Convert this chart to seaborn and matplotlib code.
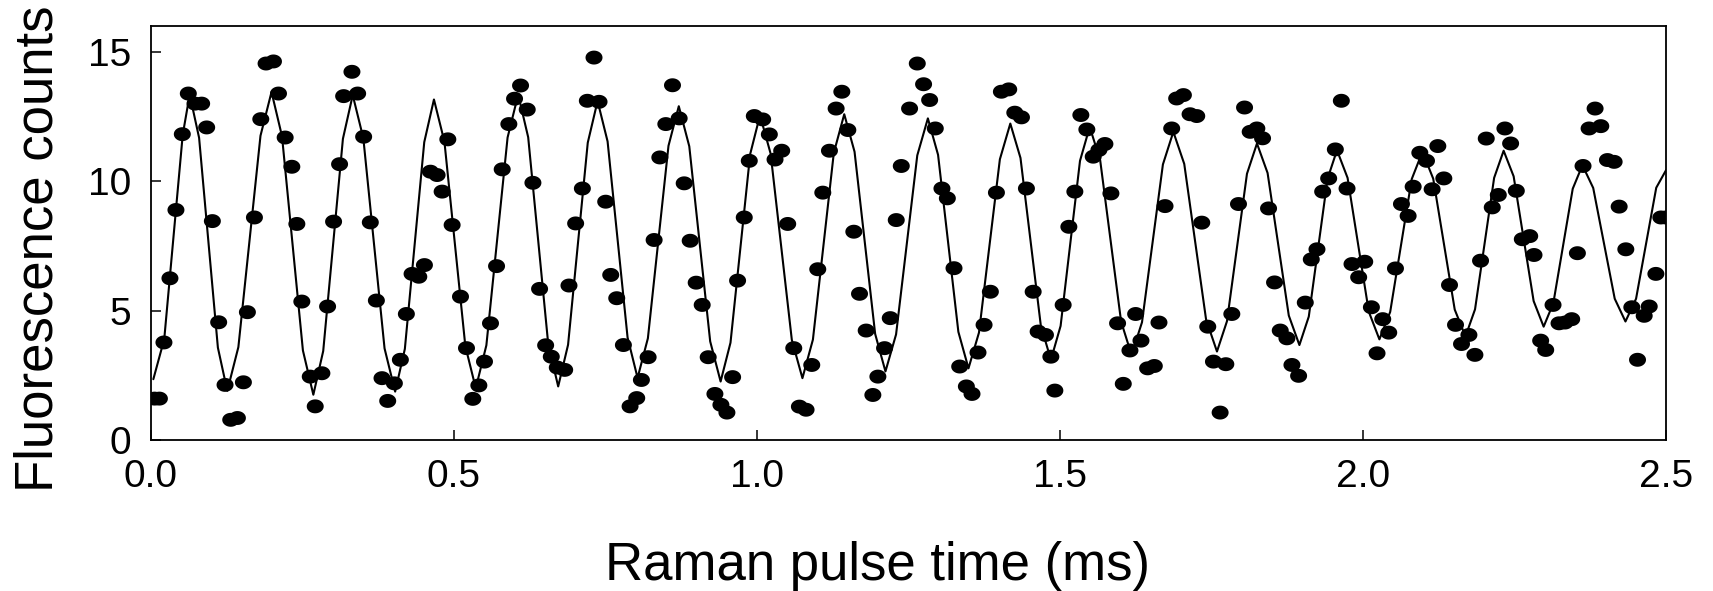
import numpy as np
import matplotlib
matplotlib.use("Agg")
import matplotlib.pyplot as plt
from matplotlib.path import Path
from matplotlib.markers import MarkerStyle
import seaborn as sns

# measured points: Raman pulse time (ms) and fluorescence counts
time_ms = [0.006, 0.014, 0.0215, 0.0314, 0.0413, 0.0518, 0.0617, 0.0727, 0.0837, 0.092,
           0.1014, 0.1118, 0.1223, 0.1317, 0.1427, 0.1526, 0.1592, 0.1708, 0.1813, 0.190,
           0.2022, 0.2105, 0.2215, 0.2325, 0.2408, 0.249, 0.2629, 0.2711, 0.2821, 0.2915,
           0.3014, 0.3113, 0.318, 0.3317, 0.3411, 0.351, 0.362, 0.372, 0.3813, 0.3907,
           0.4017, 0.4116, 0.4215, 0.4309, 0.442, 0.4513, 0.4612, 0.4722, 0.4805, 0.4899,
           0.497, 0.5108, 0.5207, 0.5311, 0.5411, 0.5504, 0.5603, 0.5703, 0.5796, 0.5906,
           0.600, 0.6099, 0.6209, 0.6303, 0.6413, 0.6513, 0.6606, 0.6705, 0.6827, 0.6898,
           0.7008, 0.7119, 0.7201, 0.7311, 0.7394, 0.7504, 0.7587, 0.7686, 0.7796, 0.7906,
           0.8016, 0.8093, 0.8204, 0.8303, 0.8397, 0.8496, 0.8606, 0.8716, 0.8799, 0.8898,
           0.8997, 0.9096, 0.9195, 0.9306, 0.9405, 0.9504, 0.9598, 0.968, 0.979, 0.9873,
           0.9956, 1.0094, 1.0204, 1.0298, 1.0408, 1.0507, 1.0607, 1.070, 1.081, 1.0904,
           1.1003, 1.1086, 1.1196, 1.1306, 1.140, 1.1499, 1.1598, 1.1692, 1.1802, 1.1912,
           1.1995, 1.2105, 1.2199, 1.2298, 1.2381, 1.2518, 1.2645, 1.2749, 1.2849, 1.2942,
           1.3052, 1.3141, 1.3251, 1.3345, 1.3455, 1.3548, 1.3647, 1.3747, 1.3851, 1.3951,
           1.4033, 1.4154, 1.4254, 1.4364, 1.4446, 1.4557, 1.4639, 1.476, 1.4849, 1.4915,
           1.5052, 1.5146, 1.5245, 1.5344, 1.5443, 1.5548, 1.5642, 1.5741, 1.584, 1.595,
           1.6044, 1.6154, 1.6248, 1.6336, 1.6446, 1.6556, 1.6633, 1.6733, 1.6843, 1.6925,
           1.7036, 1.7146, 1.7256, 1.7339, 1.7438, 1.7532, 1.7642, 1.7736, 1.7835, 1.7945,
           1.8045, 1.8138, 1.8248, 1.8342, 1.8441, 1.854, 1.8634, 1.8744, 1.8827, 1.8937,
           1.9047, 1.9146, 1.924, 1.9334, 1.9433, 1.9543, 1.9642, 1.9736, 1.9818, 1.9928,
           2.0028, 2.0138, 2.0231, 2.0325, 2.0424, 2.0535, 2.0634, 2.0744, 2.0827, 2.0937,
           2.1047, 2.114, 2.1234, 2.1333, 2.1427, 2.1526, 2.1625, 2.1747, 2.1846, 2.1939,
           2.2033, 2.2132, 2.2232, 2.2341, 2.2435, 2.2529, 2.2628, 2.275, 2.2821, 2.2931,
           2.3014, 2.3135, 2.3234, 2.3333, 2.3443, 2.3537, 2.363, 2.373, 2.3829, 2.3923,
           2.4033, 2.4143, 2.4226, 2.4336, 2.4435, 2.4529, 2.4639, 2.4722, 2.4832, 2.4914,
           2.4997]
counts = [1.6, 1.6, 3.77, 6.25, 8.89, 11.82, 13.39, 13.0, 13.0, 12.08,
          8.46, 4.55, 2.13, 0.78, 0.85, 2.23, 4.94, 8.60, 12.4, 14.55,
          14.63, 13.39, 11.69, 10.56, 8.35, 5.35, 2.45, 1.30, 2.58, 5.16,
          8.44, 10.66, 13.29, 14.23, 13.39, 11.72, 8.41, 5.39, 2.39, 1.51,
          2.19, 3.10, 4.87, 6.42, 6.31, 6.76, 10.37, 10.24, 9.6, 11.62,
          8.31, 5.54, 3.55, 1.59, 2.11, 3.03, 4.51, 6.72, 10.46, 12.21,
          13.19, 13.70, 12.77, 9.94, 5.84, 3.66, 3.22, 2.80, 2.71, 5.97,
          8.37, 9.72, 13.11, 14.78, 13.07, 9.21, 6.38, 5.48, 3.67, 1.30,
          1.62, 2.32, 3.20, 7.73, 10.92, 12.21, 13.71, 12.43, 9.92, 7.70,
          6.08, 5.22, 3.2, 1.78, 1.36, 1.06, 2.43, 6.16, 8.60, 10.79,
          12.52, 12.39, 11.81, 10.84, 11.18, 8.35, 3.55, 1.29, 1.17, 2.90,
          6.6, 9.56, 11.18, 12.81, 13.46, 11.98, 8.05, 5.65, 4.23, 1.74,
          2.45, 3.55, 4.71, 8.5, 10.59, 12.81, 14.55, 13.75, 13.14, 12.04,
          9.72, 9.34, 6.64, 2.84, 2.07, 1.78, 3.38, 4.45, 5.73, 9.56,
          13.46, 13.55, 12.65, 12.47, 9.72, 5.73, 4.19, 4.06, 3.22, 1.91,
          5.22, 8.24, 9.6, 12.56, 12.0, 10.95, 11.21, 11.44, 9.53, 4.51,
          2.17, 3.46, 4.87, 3.84, 2.77, 2.86, 4.54, 9.04, 12.04, 13.2,
          13.33, 12.59, 12.52, 8.4, 4.38, 3.03, 1.06, 2.93, 4.87, 9.12,
          12.85, 11.91, 12.04, 11.66, 8.95, 6.09, 4.23, 3.93, 2.90, 2.48,
          5.31, 6.98, 7.37, 9.6, 10.11, 11.23, 13.11, 9.72, 6.80, 6.29,
          6.89, 5.13, 3.35, 4.67, 4.15, 6.63, 9.12, 8.66, 9.79, 11.1,
          10.79, 9.69, 11.36, 10.11, 5.99, 4.45, 3.71, 4.06, 3.29, 6.93,
          11.65, 8.99, 9.47, 12.04, 11.46, 9.63, 7.76, 7.88, 7.15, 3.84,
          3.48, 5.22, 4.51, 4.54, 4.67, 7.22, 10.59, 12.04, 12.81, 12.13,
          10.82, 10.75, 9.02, 7.37, 5.13, 3.1, 4.8, 5.16, 6.42, 8.6,
          8.6]

# fitted curve at its turning points and shoulders
fit_t = [0.004, 0.022, 0.0525, 0.064, 0.0795, 0.1105, 0.126, 0.1443, 0.1808, 0.199,
         0.2163, 0.2508, 0.268, 0.2843, 0.3168, 0.333, 0.3505, 0.3855, 0.403, 0.419,
         0.451, 0.467, 0.4843, 0.5188, 0.536, 0.5535, 0.5885, 0.606, 0.6225, 0.6555,
         0.672, 0.6883, 0.7208, 0.737, 0.7535, 0.7865, 0.803, 0.82, 0.854, 0.871,
         0.8883, 0.9228, 0.940, 0.9563, 0.9888, 1.005, 1.0225, 1.0575, 1.075, 1.0923,
         1.1268, 1.144, 1.161, 1.195, 1.212, 1.2295, 1.2645, 1.282, 1.2988, 1.3323,
         1.349, 1.3663, 1.4008, 1.418, 1.4348, 1.4683, 1.485, 1.501, 1.533, 1.549,
         1.5663, 1.6008, 1.618, 1.6353, 1.6698, 1.687, 1.705, 1.741, 1.759, 1.7755,
         1.8085, 1.825, 1.8425, 1.8775, 1.895, 1.9105, 1.9415, 1.957, 1.9745, 2.0095,
         2.027, 2.0448, 2.0803, 2.098, 2.1158, 2.1513, 2.169, 2.1848, 2.2163, 2.232,
         2.2485, 2.2815, 2.298, 2.314, 2.346, 2.362, 2.3798, 2.4153, 2.433, 2.4505,
         2.4838, 2.5]
fit_v = [2.35, 3.9, 11.8, 13.35, 11.68, 3.57, 1.9, 3.59, 11.76, 13.45,
         11.74, 3.46, 1.75, 3.44, 11.64, 13.33, 11.66, 3.54, 1.87, 3.52,
         11.51, 13.16, 11.53, 3.63, 2.0, 3.66, 11.69, 13.35, 11.70, 3.72,
         2.07, 3.68, 11.49, 13.1, 11.54, 3.96, 2.4, 3.93, 11.37, 12.9,
         11.35, 3.81, 2.26, 3.76, 11.05, 12.55, 11.07, 3.87, 2.39, 3.88,
         11.10, 12.59, 11.14, 4.10, 2.65, 4.08, 11.0, 12.43, 11.02, 4.18,
         2.77, 4.15, 10.85, 12.23, 10.90, 4.43, 3.1, 4.41, 10.79, 12.1,
         10.81, 4.58, 3.29, 4.55, 10.65, 11.91, 10.67, 4.66, 3.42, 4.59,
         10.29, 11.46, 10.32, 4.81, 3.67, 4.77, 10.10, 11.2, 10.13, 4.96,
         3.89, 4.95, 10.08, 11.14, 10.10, 5.04, 4.0, 5.05, 10.13, 11.18,
         10.19, 5.37, 4.38, 5.29, 9.71, 10.62, 9.74, 5.46, 4.58, 5.46,
         9.75, 10.43]

x_ticks = [0.0, 0.5, 1.0, 1.5, 2.0, 2.5]
y_ticks = [0, 5, 10, 15]

sns.set_style("white")
plt.rcParams['font.family'] = ['Liberation Sans', 'DejaVu Sans']
plt.rcParams['text.color'] = 'black'
plt.rcParams['axes.labelcolor'] = 'black'

fig = plt.figure(figsize=(17.13, 5.91), dpi=100)
ax = fig.add_axes([0.0881, 0.2555, 0.8845, 0.7005])

# slightly flattened dot, as in the original
ang = np.linspace(0, 2 * np.pi, 40)
dot = MarkerStyle(Path(np.column_stack([np.cos(ang), 0.82 * np.sin(ang)]), closed=True))

sns.lineplot(x=fit_t, y=fit_v, color='black', linewidth=1.5, estimator=None, ax=ax)
sns.scatterplot(x=time_ms, y=counts, marker=dot, s=150, color='black',
                linewidth=0, edgecolor='none', ax=ax, zorder=3)

ax.set_xlim(0, 2.5)
ax.set_ylim(0, 16)
ax.set_xticks(x_ticks)
ax.set_xticklabels([f"{v:.1f}" for v in x_ticks])
ax.set_yticks(y_ticks)
ax.tick_params(direction='in', length=7, width=1.1, labelsize=28, pad=14,
               colors='black', bottom=True, left=True, top=False, right=False)
for sp in ax.spines.values():
    sp.set_linewidth(1.3)
    sp.set_color('black')

ax.set_xlabel("Raman pulse time (ms)", fontsize=38, color='black')
ax.set_ylabel("Fluorescence counts", fontsize=38, color='black')
ax.xaxis.set_label_coords(0.4795, -0.244)
ax.yaxis.set_label_coords(-0.058, 0.461)

fig.savefig("out.png", dpi=100, facecolor='white')
